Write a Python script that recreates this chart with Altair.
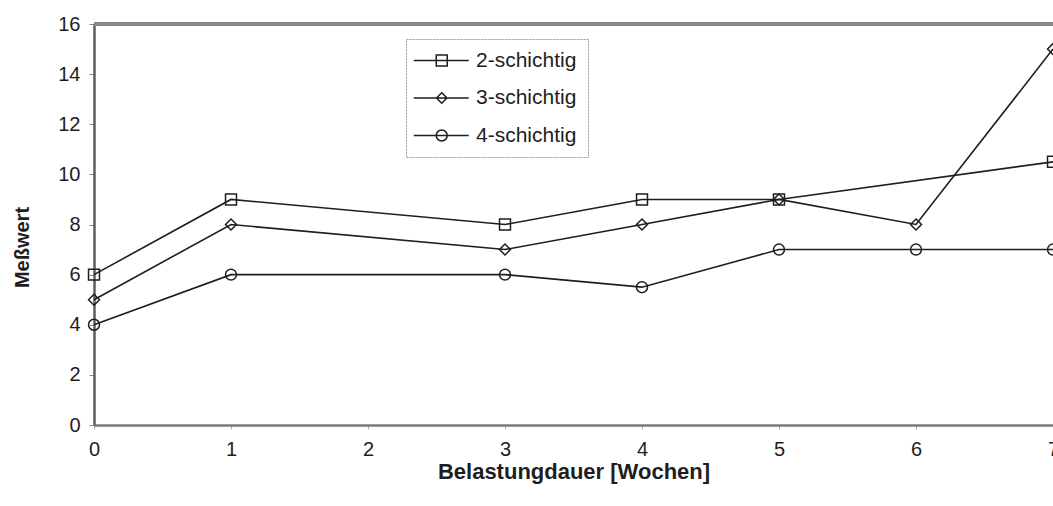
import altair as alt
import pandas as pd

# Belastungsdauer in Wochen and the measured values per layer count
weeks = [0, 1, 3, 4, 5, 6, 7]
series_names = ["2-schichtig", "3-schichtig", "4-schichtig"]
vals_2 = [6, 9, 8, 9, 9, None, 10.5]
vals_3 = [5, 8, 7, 8, 9, 8, 15]
vals_4 = [4, 6, 6, 5.5, 7, 7, 7]

rows = []
for name, vals in zip(series_names, [vals_2, vals_3, vals_4]):
    for w, v in zip(weeks, vals):
        if v is not None:
            rows.append({"Woche": w, "Messwert": v, "Reihe": name})
df = pd.DataFrame(rows)

FONT = "Liberation Sans"
INK = "#1e1e1e"
AXIS_GREY = "#7a7a7a"

x_enc = alt.X(
    "Woche:Q",
    scale=alt.Scale(domain=[0, 7], nice=False),
    axis=alt.Axis(
        title="Belastungdauer [Wochen]",
        values=list(range(0, 8)),
        format="d",
        grid=False,
        labelFlush=False,
        domainColor=AXIS_GREY,
        domainWidth=2.5,
        tickColor="#b0b0b0",
        tickSize=4,
        tickWidth=1,
        labelPadding=10,
        labelFont=FONT,
        labelFontSize=20,
        labelColor=INK,
        titleFont=FONT,
        titleFontSize=22,
        titleFontWeight="bold",
        titleColor=INK,
        titleBaseline="alphabetic",
        titleY=53,
    ),
)
y_enc = alt.Y(
    "Messwert:Q",
    scale=alt.Scale(domain=[0, 16], nice=False),
    axis=alt.Axis(
        title="Meßwert",
        values=list(range(0, 17, 2)),
        grid=False,
        domainColor="#5e5e5e",
        domainWidth=2.5,
        tickColor="#8a8a8a",
        tickSize=5,
        tickWidth=1,
        labelPadding=9,
        labelFont=FONT,
        labelFontSize=20,
        labelColor=INK,
        titleFont=FONT,
        titleFontSize=20,
        titleFontWeight="bold",
        titleColor=INK,
        titleAngle=270,
        titleAlign="center",
        titleBaseline="middle",
        titleX=-72,
        titleY=223,
    ),
)

base = alt.Chart(df)

lines = base.mark_line(color=INK, strokeWidth=1.6).encode(
    x=x_enc, y=y_enc, detail="Reihe:N"
)

markers = base.mark_point(
    filled=False, color=INK, strokeWidth=1.5, size=120, opacity=1
).encode(
    x="Woche:Q",
    y="Messwert:Q",
    shape=alt.Shape(
        "Reihe:N",
        scale=alt.Scale(domain=series_names, range=["square", "diamond", "circle"]),
        legend=None,
    ),
)

# Legend symbols: a short line with the series marker on it
leg_line = "M-2.75,0H8.25"
leg_square = leg_line + "M1.75,-1.1H3.95V1.1H1.75Z"
leg_diamond = leg_line + "M2.85,-1.05L3.9,0L2.85,1.05L1.8,0Z"
leg_circle = leg_line + "M1.75,0A1.1,1.1 0 1,0 3.95,0A1.1,1.1 0 1,0 1.75,0Z"

legend_layer = base.mark_point(filled=False, opacity=0, color=INK, size=100).encode(
    x="Woche:Q",
    y="Messwert:Q",
    shape=alt.Shape(
        "Reihe:N",
        scale=alt.Scale(domain=series_names, range=[leg_square, leg_diamond, leg_circle]),
        legend=alt.Legend(
            title=None,
            orient="none",
            legendX=312,
            legendY=15,
            padding=11,
            fillColor="white",
            strokeColor="#9a9a9a",
            labelFont=FONT,
            labelFontSize=21,
            labelColor=INK,
            labelOffset=38,
            rowPadding=15.5,
            symbolSize=100,
            symbolStrokeWidth=1.5,
            symbolStrokeColor=INK,
            symbolFillColor="transparent",
            symbolOpacity=1,
        ),
    ),
)

# upper frame line at the top of the value range
top_frame = alt.Chart(df).mark_rule(color="#8a8a8a", strokeWidth=3).encode(
    y=alt.datum(16)
)

chart = (
    alt.layer(top_frame, lines, markers, legend_layer)
    .resolve_scale(shape="independent")
    .properties(
        width=959,
        height=401,
        autosize=alt.AutoSizeParams(type="none"),
        padding={"left": 94, "top": 24, "right": 0, "bottom": 81},
        background="white",
    )
    .configure_view(stroke=None)
    .configure_legend(strokeDash=[2, 1], strokeWidth=1)
)

chart.save("out.html", embed_options={"renderer": "svg", "actions": False})
